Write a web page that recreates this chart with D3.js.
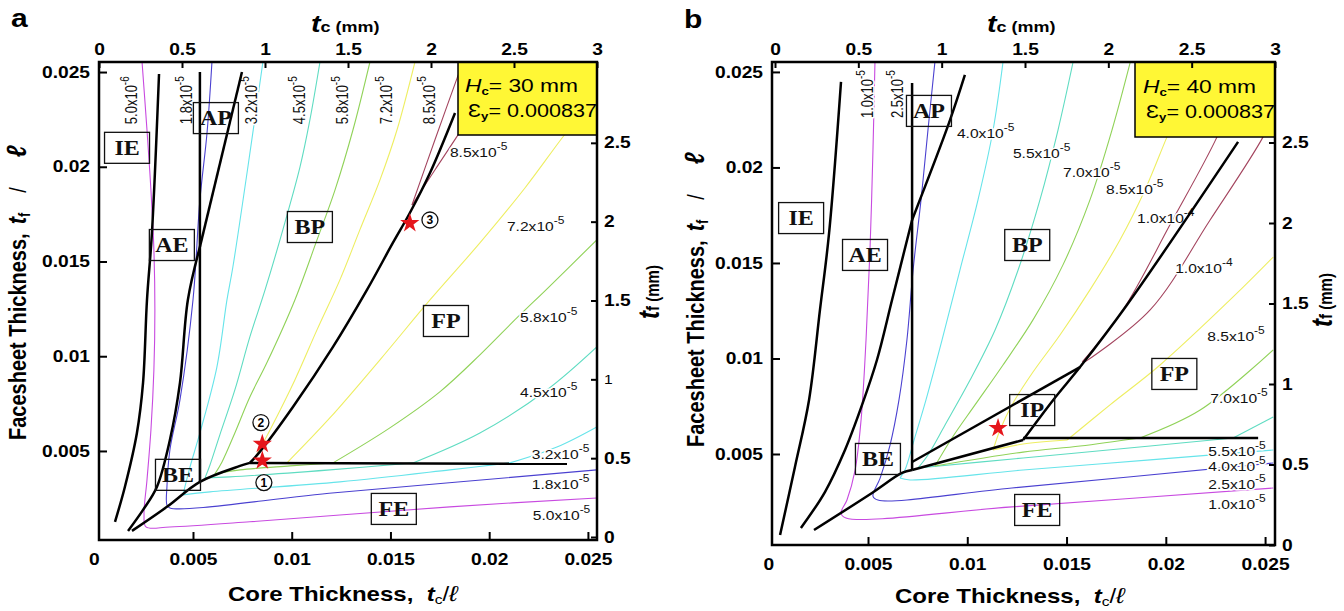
<!DOCTYPE html>
<html>
<head>
<meta charset="utf-8">
<script src="https://cdn.jsdelivr.net/npm/d3@7"></script>
<style>
body{margin:0;background:#fff}
svg{display:block}
</style>
</head>
<body>
<svg id="chart" width="1344" height="611"></svg>
<script>
// all t_c/l and t_f/l values below are in units of 1e-3

//* panel a : Hc = 30 mm
var levelsA = [5.0e-6, 1.8e-5, 3.2e-5, 4.5e-5, 5.8e-5, 7.2e-5, 8.5e-5]
var curvesA = [
  {level: 5.0e-6, pts: [[2.42,25.53],[2.67,21.94],[2.87,18.77],[3.02,15.61],[3.07,12.44],[3.02,9.28],[2.87,6.11],[2.67,3.47],[2.52,1.63],[2.62,0.99],[3.83,0.99],[7.88,1.26],[12.44,1.62],[18.01,2.05],[25.45,2.52]]},
  {level: 1.8e-5, pts: [[5.96,25.53],[5.71,21.78],[5.35,18.24],[5.00,12.97],[4.34,7.70],[3.83,5.05],[3.68,3.10],[3.68,2.15],[3.83,1.99],[12.19,2.79],[25.45,4.00]]},
  {level: 3.2e-5, pts: [[8.54,25.53],[7.78,19.99],[7.02,14.71],[6.72,12.97],[6.21,9.43],[5.35,5.95],[4.85,4.16],[4.59,3.10],[4.49,2.68]]},
  {level: 3.2e-5, pts: [[4.49,2.68],[5.86,2.84],[12.44,3.37],[18.01,4.00],[21.05,4.37]]},
  {level: 3.2e-5, pts: [[21.05,4.37],[23.43,5.21],[25.45,6.27]]},
  {level: 4.5e-5, pts: [[11.43,25.53],[10.92,22.47],[10.42,19.99],[9.55,16.67],[8.65,13.50],[7.88,11.02],[7.12,8.22],[6.36,5.85],[5.86,4.26],[5.61,3.58]]},
  {level: 4.5e-5, pts: [[5.61,3.58],[6.87,3.63],[11.94,4.00],[16.14,4.37]]},
  {level: 4.5e-5, pts: [[16.14,4.37],[19.53,5.95],[22.92,8.22],[25.45,10.49]]},
  {level: 5.8e-5, pts: [[13.96,25.53],[13.10,21.94],[12.19,18.77],[11.28,16.14],[10.16,12.97],[8.74,9.65],[7.88,7.85],[7.12,5.95],[6.47,4.42],[6.11,3.79]]},
  {level: 5.8e-5, pts: [[6.11,3.79],[7.38,4.00],[9.91,4.21],[12.09,4.37]]},
  {level: 5.8e-5, pts: [[12.09,4.37],[14.97,6.22],[17.50,8.12],[19.53,10.07],[21.40,12.02],[22.97,13.60],[25.45,16.14]]},
  {level: 7.2e-5, pts: [[16.24,25.53],[15.33,21.94],[14.47,19.31],[13.45,16.67],[12.44,14.03],[11.28,11.39],[10.16,8.75],[8.90,6.11],[8.14,4.63]]},
  {level: 7.2e-5, pts: [[9.76,4.37],[11.93,6.74],[14.47,9.81],[17.00,12.97],[19.53,15.98],[21.81,18.88],[23.73,21.57],[25.10,23.37]]},
  {level: 8.5e-5, pts: [[16.09,17.98],[17.25,21.41],[18.52,25.10]]},
  {level: 8.5e-5, pts: [[16.09,17.98],[17.25,19.83],[18.52,21.84],[19.53,23.50]]}
]
var boundsA = [
  [[1.05,1.26],[1.55,3.10],[2.16,5.95],[2.47,8.59],[2.67,12.97],[2.92,16.50],[3.28,24.90]],
  [[1.71,0.78],[2.47,1.89],[3.17,3.10],[3.83,5.58],[4.34,8.59],[4.74,12.97],[5.35,15.77]],
  [[5.35,15.77],[7.48,25.00]],
  [[5.35,25.00],[5.35,3.37]],
  [[1.91,0.78],[3.68,2.05],[5.35,3.37],[7.38,4.21],[7.88,4.37]],
  [[7.88,4.37],[23.94,4.32]],
  [[7.88,4.37],[8.38,4.95],[10.06,7.32],[12.09,10.49],[13.81,13.50],[15.12,15.98],[15.98,17.56],[17.00,19.67],[18.27,22.84]]
]
var regionsA = [
  {name: "IE", at: [1.66,21.00]}, {name: "AP", at: [6.16,22.57]}, {name: "BP", at: [10.92,16.82]},
  {name: "AE", at: [3.93,15.87]}, {name: "BE", at: [4.24,3.74]}, {name: "FP", at: [17.81,11.86]},
  {name: "FE", at: [15.17,1.94]}
]
var starsA = [[8.51,4.49],[8.51,5.37],[15.98,17.02]]
var marksA = [{n: "1", at: [8.59,3.33]}, {n: "2", at: [8.44,6.50]}, {n: "3", at: [17.00,17.19]}]
var topLabelsA = [
  {t: "5.0x10", e: "-6", at: [2.16,22.25]}, {t: "1.8x10", e: "-5", at: [4.95,22.25]},
  {t: "3.2x10", e: "-5", at: [8.24,22.25]}, {t: "4.5x10", e: "-5", at: [10.67,22.25]},
  {t: "5.8x10", e: "-5", at: [12.85,22.25]}, {t: "7.2x10", e: "-5", at: [15.08,22.25]},
  {t: "8.5x10", e: "-5", at: [17.25,22.25]}
]
var sideLabelsA = [
  {t: "8.5x10", e: "-5", at: [18.01,20.52]}, {t: "7.2x10", e: "-5", at: [20.90,16.60]},
  {t: "5.8x10", e: "-5", at: [21.56,11.81]}, {t: "4.5x10", e: "-5", at: [21.56,7.85]},
  {t: "3.2x10", e: "-5", at: [22.16,4.58]}, {t: "1.8x10", e: "-5", at: [22.16,3.00]},
  {t: "5.0x10", e: "-5", at: [22.21,1.36]}
]

//* panel b : Hc = 40 mm
var levelsB = [1.0e-5, 2.5e-5, 4.0e-5, 5.5e-5, 7.0e-5, 8.5e-5, 1.0e-4]
var curvesB = [
  {level: 1.0e-5, pts: [[5.35,25.52],[5.25,20.92],[5.10,15.68],[4.90,10.97],[4.65,6.78],[4.35,4.16],[3.94,2.59],[3.64,1.91],[3.89,1.65],[12.25,2.23],[25.41,3.22]]},
  {level: 2.5e-5, pts: [[8.37,25.52],[8.02,21.96],[7.67,18.30],[7.27,14.63],[6.96,10.97],[6.56,7.83],[6.11,5.47],[5.61,3.74],[5.25,2.80],[5.50,2.59],[12.25,3.22],[25.41,4.53]]},
  {level: 4.0e-5, pts: [[11.80,25.52],[11.30,21.96],[10.54,18.30],[9.63,14.63],[8.73,10.97],[7.92,7.83],[7.32,5.73],[6.86,4.16],[6.61,3.74]]},
  {level: 4.0e-5, pts: [[6.61,3.74],[7.12,3.64],[12.81,4.16],[19.21,4.69],[25.41,5.21]]},
  {level: 5.5e-5, pts: [[15.33,25.52],[14.57,21.96],[13.66,18.30],[12.56,14.63],[11.40,11.49],[10.14,8.87],[8.88,6.52],[8.02,4.95],[7.52,4.27]]},
  {level: 5.5e-5, pts: [[7.52,4.27],[12.81,4.79],[19.21,5.42],[23.39,5.84]]},
  {level: 5.5e-5, pts: [[23.39,5.84],[25.41,6.94]]},
  {level: 7.0e-5, pts: [[18.20,25.47],[17.29,21.96],[16.18,18.30],[14.82,14.90],[13.31,12.02],[11.80,9.66],[10.39,7.57],[9.23,5.84],[8.37,4.37]]},
  {level: 7.0e-5, pts: [[8.37,4.37],[12.81,5.10],[15.68,5.42],[18.70,5.84]]},
  {level: 7.0e-5, pts: [[18.70,5.84],[21.73,7.30],[25.41,10.45]]},
  {level: 8.5e-5, pts: [[20.97,23.80],[20.06,21.60],[18.95,18.82],[17.69,16.20],[16.18,13.59],[14.67,11.23],[13.31,9.29],[12.25,7.57],[11.65,6.26],[11.30,5.21]]},
  {level: 8.5e-5, pts: [[11.30,5.21],[12.81,5.52],[15.03,5.73]]},
  {level: 8.5e-5, pts: [[15.03,5.73],[17.19,7.57],[19.71,9.66],[23.39,13.22],[25.41,15.31]]},
  {level: 1.0e-4, pts: [[15.79,9.82],[17.84,12.54],[20.21,17.00],[22.58,21.60],[23.50,24.00]]},
  {level: 1.0e-4, pts: [[15.93,9.82],[19.21,12.54],[22.23,17.25],[24.90,21.60],[25.50,23.00]]}
]
var boundsB = [
  [[0.57,0.76],[1.32,4.32],[2.03,7.83],[2.58,12.54],[3.04,16.57],[3.64,24.48]],
  [[1.62,1.13],[2.83,3.01],[3.84,5.21],[4.70,7.57],[5.45,9.92],[6.21,13.06],[7.22,17.25]],
  [[7.22,17.25],[9.08,22.33],[9.88,24.84]],
  [[7.22,24.42],[7.22,4.16]],
  [[2.28,1.02],[5.20,2.96],[6.71,4.01],[7.22,4.16]],
  [[7.22,4.58],[15.68,9.55]],
  [[7.22,4.16],[12.81,5.73]],
  [[12.81,5.84],[24.65,5.84]],
  [[12.81,5.73],[14.33,7.83],[15.68,9.55],[18.04,12.80],[23.64,21.34]]
]
var regionsB = [
  {name: "IE", at: [1.63,17.35]}, {name: "AE", at: [4.85,15.42]}, {name: "AP", at: [8.07,22.96]},
  {name: "BP", at: [13.02,15.94]}, {name: "BE", at: [5.50,4.74]}, {name: "IP", at: [13.27,7.30]},
  {name: "FP", at: [20.43,9.19]}, {name: "FE", at: [13.52,2.07]}
]
var starsB = [[11.55,6.36]]
var marksB = []
var topLabelsB = [{t: "1.0x10", e: "-5", at: [5.25,22.59]}, {t: "2.5x10", e: "-5", at: [6.76,22.59]}]
var sideLabelsB = [
  {t: "4.0x10", e: "-5", at: [9.48,21.54]}, {t: "5.5x10", e: "-5", at: [12.30,20.50]},
  {t: "7.0x10", e: "-5", at: [14.82,19.50]}, {t: "8.5x10", e: "-5", at: [16.99,18.61]},
  {t: "1.0x10", e: "-4", at: [18.55,17.09]}, {t: "1.0x10", e: "-4", at: [20.47,14.48]},
  {t: "8.5x10", e: "-5", at: [22.09,10.92]}, {t: "7.0x10", e: "-5", at: [22.24,7.67]},
  {t: "5.5x10", e: "-5", at: [22.14,4.90]}, {t: "4.0x10", e: "-5", at: [22.14,4.11]},
  {t: "2.5x10", e: "-5", at: [22.14,3.17]}, {t: "1.0x10", e: "-5", at: [22.14,2.12]}
]

//* shared
var hcValues = ["30 mm", "40 mm"]
var epsYield = "0.000837"
var ratioTicks = [5, 10, 15, 20, 25]          // x1e-3
var mmTopTicks = [0, 0.5, 1, 1.5, 2, 2.5, 3]
var mmRightTicks = [0, 0.5, 1, 1.5, 2, 2.5]

var SX = 1.2   // the figure is stretched horizontally
var SANS = "'Liberation Sans', Arial, sans-serif"
var SERIF = "'Liberation Serif', 'Times New Roman', serif"
var levelColors = ["#c84ae0", "#4a40d0", "#66e4ea", "#5fdcc2", "#90d258", "#eeee62", "#a3445e"]

var svg = d3.select("#chart")

function stretched(sel, x, y) { return sel.attr("transform", "translate(" + x + "," + y + ") scale(" + SX + ",1)") }
function stretchedV(sel, x, y) { return sel.attr("transform", "translate(" + x + "," + y + ") rotate(-90) scale(1," + SX + ")") }

function styleAxis(a, plain) {
    a.select(".domain").remove()
    a.attr("font-family", SANS).attr("font-size", 16).attr("font-weight", "bold")
    a.selectAll(".tick line").attr("stroke", "#000").attr("stroke-width", 2)
    a.selectAll(".tick text").attr("fill", "#000").each(function(d) {
        var t = d3.select(this)
        var xv = +t.attr("x") || 0
        t.attr("x", xv / SX).attr("transform", "scale(" + SX + ",1)")
        if (plain && plain.indexOf(d) >= 0) t.attr("font-weight", "normal").attr("font-size", 13)
    })
}

function drawPanel(cfg) {
    var g = svg.append("g")
    var x = d3.scaleLinear().domain(cfg.xDom).range([cfg.x0, cfg.x1])
    var y = d3.scaleLinear().domain(cfg.yDom).range([cfg.y1, cfg.y0])
    var xTop = d3.scaleLinear().domain([0, 3]).range(cfg.topRange)
    var yRight = d3.scaleLinear().domain([0, 3]).range(cfg.rightRange)
    var color = d3.scaleOrdinal().domain(cfg.levels).range(levelColors)
    var line = d3.line().x(function(p) { return x(p[0]) }).y(function(p) { return y(p[1]) })
        .curve(d3.curveCatmullRom.alpha(0.5))

    var clipId = "clip-" + cfg.name
    g.append("clipPath").attr("id", clipId).append("rect")
        .attr("x", cfg.x0).attr("y", cfg.y0).attr("width", cfg.x1 - cfg.x0).attr("height", cfg.y1 - cfg.y0)
    var plot = g.append("g").attr("clip-path", "url(#" + clipId + ")")

    //? contours
    plot.selectAll("path.contour").data(cfg.curves).join("path").attr("class", "contour")
        .attr("d", function(c) { return line(c.pts) })
        .attr("fill", "none").attr("stroke", function(c) { return color(c.level) }).attr("stroke-width", 1.1)

    //? contour labels (white halo = gap in the line)
    var lab = plot.append("g").attr("font-family", SANS).attr("font-size", 13).attr("fill", "#111")
    function supLabel(d) {
        var t = lab.append("text").attr("stroke", "#fff").attr("stroke-width", 3)
            .attr("paint-order", "stroke").attr("stroke-linejoin", "round")
        t.append("tspan").text(d.t)
        t.append("tspan").attr("dy", -7).attr("font-size", 10).text(d.e)
        return t
    }
    cfg.sideLabels.forEach(function(d) { stretched(supLabel(d), x(d.at[0]), y(d.at[1])) })
    cfg.topLabels.forEach(function(d) { stretchedV(supLabel(d), x(d.at[0]), y(d.at[1])) })

    //? regime boundaries
    plot.selectAll("path.bound").data(cfg.bounds).join("path").attr("class", "bound")
        .attr("d", line).attr("fill", "none").attr("stroke", "#000").attr("stroke-width", 2.5)
        .attr("stroke-linejoin", "round")

    //? region boxes
    var rg = g.selectAll("g.region").data(cfg.regions).join("g").attr("class", "region")
        .attr("transform", function(d) { return "translate(" + x(d.at[0]) + "," + y(d.at[1]) + ")" })
    rg.append("rect").attr("x", -22.5).attr("y", -15.5).attr("width", 45).attr("height", 31)
        .attr("fill", "none").attr("stroke", "#111").attr("stroke-width", 1.3)
    rg.append("text").attr("text-anchor", "middle").attr("dy", "0.35em").attr("transform", "scale(" + SX + ",1)")
        .attr("font-family", SERIF).attr("font-weight", "bold").attr("font-size", 20).attr("fill", "#111")
        .text(function(d) { return d.name })

    //? stars and circled numbers
    g.selectAll("path.star").data(cfg.stars).join("path").attr("class", "star")
        .attr("d", d3.symbol(d3.symbolStar, 115))
        .attr("transform", function(d) { return "translate(" + x(d[0]) + "," + y(d[1]) + ")" })
        .attr("fill", "#e5161c")
    var mk = g.selectAll("g.mark").data(cfg.marks).join("g").attr("class", "mark")
        .attr("transform", function(d) { return "translate(" + x(d.at[0]) + "," + y(d.at[1]) + ")" })
    mk.append("circle").attr("r", 8).attr("fill", "#fff").attr("stroke", "#111").attr("stroke-width", 1.3)
    mk.append("text").attr("text-anchor", "middle").attr("dy", "0.36em").attr("font-family", SANS)
        .attr("font-weight", "bold").attr("font-size", 12).text(function(d) { return d.n })

    //? yellow info box
    var b = cfg.box
    g.append("rect").attr("x", b[0]).attr("y", b[1]).attr("width", b[2] - b[0]).attr("height", b[3] - b[1])
        .attr("fill", "#fff735").attr("stroke", "#000").attr("stroke-width", 1.5)
    var t1 = g.append("text").attr("font-family", SANS).attr("font-size", 19)
    t1.append("tspan").attr("font-style", "italic").text("H")
    t1.append("tspan").attr("font-size", 11).attr("font-weight", "bold").attr("dy", 3).text("c")
    t1.append("tspan").attr("dy", -3).text("= " + cfg.hc)
    stretched(t1, cfg.hcPos[0], cfg.hcPos[1])
    var t2 = g.append("text").attr("font-family", SANS).attr("font-size", 18)
    t2.append("tspan").text("\u0190")
    t2.append("tspan").attr("font-size", 11).attr("font-weight", "bold").attr("dy", 3).text("y")
    t2.append("tspan").attr("dy", -3).text("= " + epsYield)
    stretched(t2, cfg.epsPos[0], cfg.epsPos[1])

    //? frame
    g.append("rect").attr("x", cfg.x0).attr("y", cfg.y0).attr("width", cfg.x1 - cfg.x0).attr("height", cfg.y1 - cfg.y0)
        .attr("fill", "none").attr("stroke", "#000").attr("stroke-width", 2.5)

    //? axes
    var fmt = function(d) { return d / 1000 }
    g.append("g").attr("transform", "translate(0," + cfg.y1 + ")")
        .call(d3.axisBottom(x).tickValues(ratioTicks).tickFormat(fmt).tickSize(-8).tickPadding(14).tickSizeOuter(0))
        .call(styleAxis)
    g.append("g").attr("transform", "translate(" + cfg.x0 + ",0)")
        .call(d3.axisLeft(y).tickValues(ratioTicks).tickFormat(fmt).tickSize(-8).tickPadding(9).tickSizeOuter(0))
        .call(styleAxis)
    g.append("g").attr("transform", "translate(0," + cfg.y0 + ")")
        .call(d3.axisTop(xTop).tickValues(mmTopTicks).tickFormat(function(d) { return d }).tickSize(-6).tickPadding(7).tickSizeOuter(0))
        .call(styleAxis)
    g.append("g").attr("transform", "translate(" + cfg.x1 + ",0)")
        .call(d3.axisRight(yRight).tickValues(mmRightTicks).tickFormat(function(d) { return d }).tickSize(-6).tickPadding(7).tickSizeOuter(0))
        .call(function(a) { styleAxis(a, cfg.plainTicks) })
    // the "0" of the bottom axis sits left of the frame
    stretched(g.append("text").attr("text-anchor", "middle").attr("dy", "0.71em")
        .attr("font-family", SANS).attr("font-size", 16).attr("font-weight", "bold").text("0"), x(0), cfg.y1 + 14)

    //? titles
    var bt = g.append("text").attr("font-family", SANS).attr("font-weight", "bold").attr("font-size", 20)
    bt.append("tspan").text("Core Thickness,\u00a0\u00a0")
    bt.append("tspan").attr("font-style", "italic").text("t")
    bt.append("tspan").attr("font-size", 13).attr("font-weight", "normal").attr("dy", 3).text("c")
    bt.append("tspan").attr("dy", -3).attr("font-weight", "normal").text("/")
    bt.append("tspan").attr("font-style", "italic").attr("font-weight", "normal").attr("font-size", 22).text("\u2113")
    stretched(bt, cfg.bottomTitle[0], cfg.bottomTitle[1])

    var lt = g.append("text").attr("font-family", SANS).attr("font-weight", "bold").attr("font-size", 20)
    lt.append("tspan").text("Facesheet Thickness,")
    lt.append("tspan").attr("dx", 9).attr("font-style", "italic").attr("font-size", 22).text("t")
    lt.append("tspan").attr("font-size", 13).attr("dy", 3).text("f")
    lt.append("tspan").attr("dx", 20).attr("dy", -3).attr("font-weight", "normal").text("/")
    lt.append("tspan").attr("dx", 30).attr("font-style", "italic").attr("font-size", 23).text("\u2113")
    stretchedV(lt, cfg.leftTitle[0], cfg.leftTitle[1])

    var tt = g.append("text").attr("font-family", SANS).attr("font-weight", "bold")
    tt.append("tspan").attr("font-style", "italic").attr("font-size", 24).text("t")
    tt.append("tspan").attr("font-size", 15).text("c (mm)")
    stretched(tt, cfg.topTitle[0], cfg.topTitle[1])

    var rt = g.append("text").attr("text-anchor", "middle").attr("font-family", SANS).attr("font-weight", "bold")
    rt.append("tspan").attr("font-style", "italic").attr("font-size", 24).text("t")
    rt.append("tspan").attr("font-size", 15).text("f (mm)")
    stretchedV(rt, cfg.rightTitle[0], cfg.rightTitle[1])

    stretched(g.append("text").attr("font-family", SANS).attr("font-weight", "bold").attr("font-size", 25)
        .text(cfg.name), cfg.letter[0], cfg.letter[1])
}

drawPanel({
    name: "a", levels: levelsA, curves: curvesA, bounds: boundsA, regions: regionsA, stars: starsA, marks: marksA,
    topLabels: topLabelsA, sideLabels: sideLabelsA, hc: hcValues[0], plainTicks: [1],
    x0: 99, x1: 597, y0: 62, y1: 540, xDom: [0.24, 25.46], yDom: [0.30, 25.53],
    topRange: [99, 597], rightRange: [537, 64], box: [458, 62, 597, 135], hcPos: [465, 92], epsPos: [468, 117],
    bottomTitle: [228, 601], leftTitle: [26, 440], topTitle: [311, 32], rightTitle: [659, 292], letter: [11, 27]
})
drawPanel({
    name: "b", levels: levelsB, curves: curvesB, bounds: boundsB, regions: regionsB, stars: starsB, marks: marksB,
    topLabels: topLabelsB, sideLabels: sideLabelsB, hc: hcValues[1], plainTicks: [],
    x0: 772, x1: 1275, y0: 62, y1: 545, xDom: [0.164, 25.50], yDom: [0.236, 25.52],
    topRange: [775, 1275], rightRange: [545, 62], box: [1135, 62, 1275, 137], hcPos: [1143, 93], epsPos: [1146, 118],
    bottomTitle: [895, 603], leftTitle: [704, 447], topTitle: [987, 32], rightTitle: [1332, 300], letter: [684, 28]
})
</script>
</body>
</html>
